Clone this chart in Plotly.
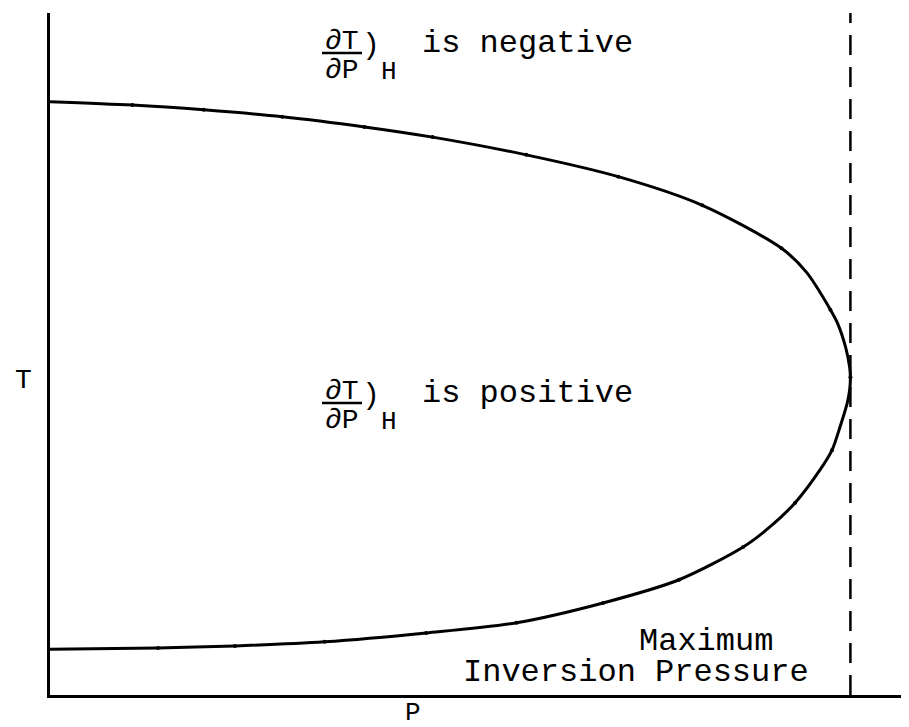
import plotly.graph_objects as go

# Inversion curve (arbitrary units: P_max = 10, T axis top = 10)
P_upper = [0.0, 1.03, 1.92, 2.90, 3.93, 4.78, 5.95, 7.10, 8.15, 9.14, 9.45, 9.75, 9.84, 9.94, 9.99, 10.0]
T_upper = [8.70, 8.65, 8.58, 8.48, 8.33, 8.18, 7.92, 7.60, 7.18, 6.55, 6.20, 5.65, 5.45, 5.10, 4.81, 4.66]
P_lower = [9.99, 9.96, 9.87, 9.77, 9.62, 9.31, 8.99, 8.66, 7.86, 6.91, 5.83, 4.70, 3.43, 2.31, 1.35, 0.0]
T_lower = [4.47, 4.28, 3.93, 3.59, 3.30, 2.82, 2.46, 2.17, 1.69, 1.35, 1.06, 0.91, 0.78, 0.72, 0.69, 0.67]
# measured points (small tick marks on the curve)
P_ticks = [1.03, 1.92, 2.90, 3.93, 4.78, 5.95, 7.10, 8.15, 9.14, 9.75, 10.0, 9.77, 9.31, 8.66, 7.86, 6.91, 5.83, 4.70, 3.43, 2.31, 1.35]
T_ticks = [8.65, 8.58, 8.48, 8.33, 8.18, 7.92, 7.60, 7.18, 6.55, 5.65, 4.66, 3.59, 2.82, 2.17, 1.69, 1.35, 1.06, 0.91, 0.78, 0.72, 0.69]
P_max = 10.0
P_range = [0, 10.832]
T_range = [0, 10.0]

FONT = "Liberation Mono"
OFF = 8  # page body margin
W, H = 909, 727
L, R, TOP, B = 50 - OFF, 0, 13 - OFF, 727 - (695 - OFF)
PW, PH = W - L - R, H - TOP - B


def px(x):
    return (x - OFF - L) / PW


def py(y):
    return (H - B - (y - OFF)) / PH


P_curve = P_upper + P_lower
T_curve = T_upper + T_lower

fig = go.Figure()
fig.add_trace(go.Scatter(
    x=P_curve, y=T_curve, mode="lines",
    line=dict(color="black", width=3, shape="spline", smoothing=0.8),
    hoverinfo="skip", showlegend=False,
))
fig.add_trace(go.Scatter(
    x=P_ticks, y=T_ticks, mode="markers",
    marker=dict(color="black", size=4),
    hoverinfo="skip", showlegend=False,
))
fig.add_trace(go.Scatter(
    x=[P_max, P_max], y=T_range, mode="lines",
    line=dict(color="black", width=2.5, dash="20px,12px"),
    hoverinfo="skip", showlegend=False,
))

ann = []
shapes = []


def txt(s, x, y, size, xanchor="center", yanchor="middle"):
    ann.append(dict(text=s, x=px(x), y=py(y), xref="paper", yref="paper",
                    showarrow=False, xanchor=xanchor, yanchor=yanchor,
                    font=dict(family=FONT, size=size, color="black")))


def fraction_label(dy, rest):
    txt("∂T", 342, 42 + dy, 28)
    txt("∂P", 342, 70 + dy, 28)
    txt(")", 371, 46 + dy, 30)
    txt("H", 389, 72 + dy, 26)
    txt(rest, 420, 44 + dy, 32, xanchor="left")
    shapes.append(dict(type="line", xref="paper", yref="paper",
                       x0=px(322), x1=px(362), y0=py(53 + dy), y1=py(53 + dy),
                       line=dict(color="black", width=2.5)))


fraction_label(0, "is negative")
fraction_label(350, "is positive")
txt("Maximum", 706, 641, 32)
txt("Inversion Pressure", 636, 672, 32)
txt("T", 23, 380, 28)
txt("P", 413, 713, 26)

fig.update_layout(
    width=W, height=H,
    margin=dict(l=L, r=R, t=TOP, b=B),
    paper_bgcolor="white", plot_bgcolor="white",
    annotations=ann, shapes=shapes,
    xaxis=dict(range=P_range, showline=True, linecolor="black", linewidth=2.5,
               showgrid=False, zeroline=False, showticklabels=False, ticks=""),
    yaxis=dict(range=T_range, showline=True, linecolor="black", linewidth=2.5,
               showgrid=False, zeroline=False, showticklabels=False, ticks=""),
)

fig.write_html("out.html")
